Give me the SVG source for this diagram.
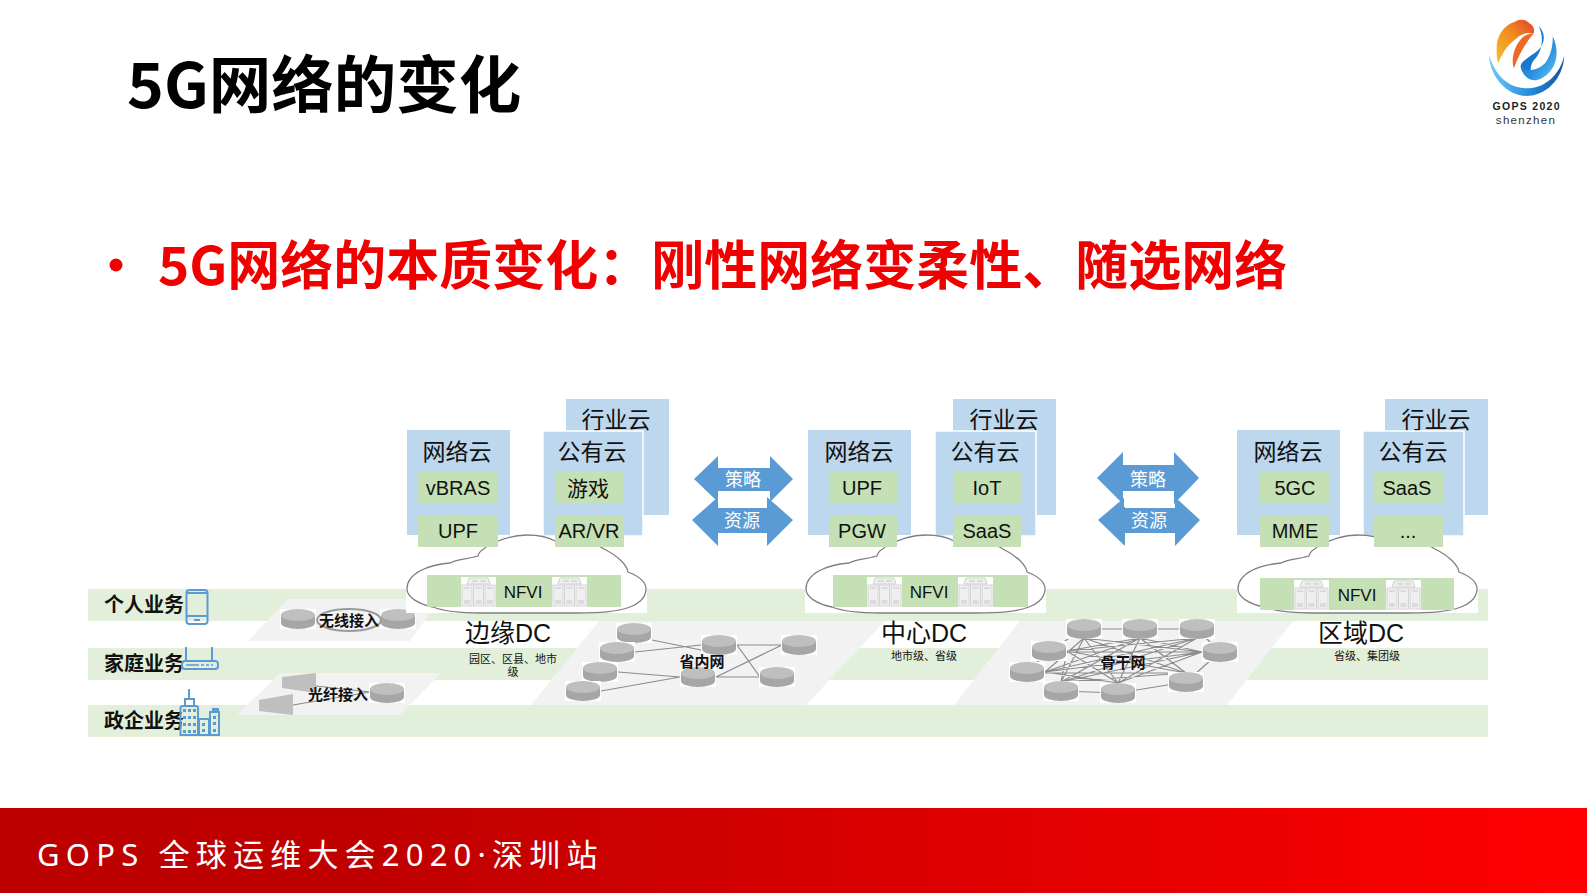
<svg xmlns="http://www.w3.org/2000/svg" xmlns:xlink="http://www.w3.org/1999/xlink" width="1587" height="893" viewBox="0 0 1587 893">
<style>
text{font-family:"Liberation Sans","Noto Sans CJK SC",sans-serif;fill:#111}
.m{text-anchor:middle}
.blue{fill:#BDD7EE}
.pub{fill:#BDD7EE;stroke:#fff;stroke-width:1.5}
.green{fill:#C5E0B4}
.band{fill:#E2EFDA}
.plane{fill:#F2F2F2}
.t22{font-size:23px}
.t21{font-size:20px}
.nf{font-size:17px}
.dc{font-size:25px}
.sub{font-size:11px}
.biz{font-size:20px;font-weight:700}
.net{font-size:15px;font-weight:700}
.arrow{fill:#5B9BD5}
.at{font-size:18px;fill:#fff}
.ln{stroke:#8c8c8c;stroke-width:1.2;fill:none}
.ic{fill:none;stroke:#5B9BD5;stroke-width:2}
.icf{fill:#5B9BD5}
</style>
<defs>
<linearGradient id="foot" x1="0" y1="0" x2="1" y2="0"><stop offset="0" stop-color="#BC0000"/><stop offset=".25" stop-color="#C00000"/><stop offset="1" stop-color="#FF0000"/></linearGradient>
<linearGradient id="org" x1="0" y1="1" x2="1" y2="0"><stop offset="0" stop-color="#F7C02C"/><stop offset=".55" stop-color="#F08A22"/><stop offset="1" stop-color="#E2412A"/></linearGradient>
<linearGradient id="bl" x1="0" y1="0" x2="1" y2="1"><stop offset="0" stop-color="#1463BE"/><stop offset=".6" stop-color="#2A92E0"/><stop offset="1" stop-color="#6CCDF5"/></linearGradient>
<linearGradient id="ring" x1="0" y1="0" x2="1" y2="0"><stop offset="0" stop-color="#6CCBF5"/><stop offset=".6" stop-color="#1F86D8"/><stop offset="1" stop-color="#1450A8"/></linearGradient>
<g id="cyl">
<rect x="-18" y="-10" width="36" height="20" fill="#fff"/>
<path d="M-17-4V4A17 6 0 0 0 17 4V-4Z" fill="#A6A6A6"/>
<ellipse cx="0" cy="-4" rx="17" ry="6" fill="#BFBFBF"/>
</g>
<g id="srv">
<rect width="35" height="30" fill="#fff"/>
<path d="M6 7 8 1H27L29 7Z" fill="#f0f0f0" stroke="#d0d0d0"/>
<path d="M11 4H17M19 4H25" stroke="#c4c4c4"/>
<g fill="#efefef" stroke="#d4d4d4"><rect x="1" y="8" width="10" height="21"/><rect x="12.500" y="8" width="10" height="21"/><rect x="24" y="8" width="10" height="21"/></g>
<path d="M3 11H9M14.500 11H20.500M26 11H32M3 24H9M14.500 24H20.500M26 24H32M3 26H9M14.500 26H20.500M26 26H32" stroke="#c8c8c8"/>
</g>
<g id="cloud">
<rect x="0" y="54" width="241" height="24" fill="#fff"/>
<path d="M1 54C1 38 22 30 44 28C52 24 62 24 72 21C73 15 78 15 80 12C92 5 106 0 121 0C132 0 142 2 149 6C165 3 185 5 198 14C212 21 221 30 222 37C235 42 240 47 240 54C240 64 230 70 224 72C210 77 195 78 170 78H75C55 78 40 77 27 72C12 69 1 62 1 54Z" fill="#fff" stroke="#7f7f7f" stroke-width="1.300"/>
</g>
</defs>

<rect width="1587" height="893" fill="#fff"/>

<g id="title"><text x="127" y="108" style="font-size:62.500px;font-weight:700;fill:#000;font-family:'Noto Sans CJK SC',sans-serif">5G网络的变化</text></g>
<g id="subtitle">
<circle cx="116" cy="265" r="6.500" fill="#F00000"/>
<text x="158" y="285" style="font-size:53px;font-weight:700;fill:#F00000;font-family:'Noto Sans CJK SC',sans-serif">5G网络的本质变化&#xFF1A;刚性网络变柔性、随选网络</text>
</g>

<g id="logo">
<g transform="translate(1470 0) scale(.3333)">
<path d="M57 165C60 235 115 288 170 288C225 288 280 240 283 165C270 225 225 265 170 265C115 265 75 225 57 165Z" fill="url(#ring)"/>
<path d="M80 150C78 110 100 75 135 65C150 55 170 58 178 70C190 75 196 90 190 102C175 96 155 100 140 115C120 130 100 150 85 190C80 175 80 160 80 150Z" fill="url(#org)"/>
<path d="M190 102C170 125 145 165 132 205C122 180 132 140 155 115C165 105 178 100 190 102Z" fill="#EC6A26"/>
<path d="M205 78C228 98 226 130 205 150C185 168 155 180 152 198C152 215 170 235 190 240C178 215 180 195 192 180C215 160 225 110 205 78Z" fill="#1B78D0"/>
<path d="M152 198C170 215 200 215 225 190C240 170 250 140 248 108C268 150 262 195 235 220C215 240 195 245 180 238C165 232 155 215 152 198Z" fill="url(#bl)"/>
</g>
<text x="1526" y="110" class="m" style="font-size:10.500px;font-weight:700;fill:#222" textLength="67" lengthAdjust="spacing">GOPS 2020</text>
<text x="1526" y="124" class="m" style="font-size:11.500px;letter-spacing:1.300px;fill:#333">shenzhen</text>
</g>

<g id="bands">
<rect class="band" x="88" y="589" width="1400" height="32"/>
<rect class="band" x="88" y="648" width="1400" height="32"/>
<rect class="band" x="88" y="705" width="1400" height="32"/>
</g>
<g id="planes">
<polygon class="plane" points="288,599 440,599 410,641 248,641"/>
<polygon class="plane" points="280,673 441,673 400,715 237,715"/>
<polygon class="plane" points="599,621 885,621 806,705 531,705"/>
<polygon class="plane" points="1020,621 1293,621 1227,705 954,705"/>
</g>

<g id="connectors">
<path class="ln" d="M316 686 370 692M293 705 370 692"/>
<path class="ln" d="M652 640 701 650M635 652 701 645M618 672 680 677M601 691 680 677M737 645H781M737 645 760 677M716 677 782 645M716 677H759"/>
<path class="ln" d="M1084 629H1197M1197 629 1220 652M1220 652 1186 682M1186 682 1118 693M1118 693 1061 691M1061 691 1027 672M1027 672 1049 651M1049 651 1084 629"/>
<path class="ln" d="M1084 638 1202 652M1084 638 1186 673M1084 638 1118 683M1084 638 1061 682M1084 638 1045 672M1140 638 1202 652M1140 638 1186 673M1140 638 1118 683M1140 638 1061 682M1140 638 1045 672M1140 638 1067 651M1197 638 1118 683M1197 638 1061 682M1197 638 1045 672M1197 638 1067 651M1202 652 1118 683M1202 652 1061 682M1202 652 1045 672M1202 652H1067M1186 673H1045M1186 673 1067 651M1186 673 1061 682M1118 683 1045 672M1118 683 1067 651M1061 682 1067 651"/>
</g>

<g id="biz-personal"><text x="104" y="612" class="biz">个人业务</text>
<rect class="ic" x="186.500" y="590" width="21" height="34" rx="3"/><path class="ic" d="M187 593H207M187 616H207"/><path class="icf" d="M194 619h6v2h-6z"/></g>
<g id="biz-home"><text x="104" y="671" class="biz">家庭业务</text>
<rect class="ic" x="182" y="661" width="36" height="8" rx="3"/><path class="ic" d="M186 660V647M212 660V647"/><path d="M186 665H199M201 665H204M206 665H209M211 665H213" stroke="#5B9BD5" stroke-width="1.500"/></g>
<g id="biz-gov"><text x="104" y="728" class="biz">政企业务</text>
<path class="ic" d="M189 689V699M185 706V699H194V706"/><path class="ic" d="M180.500 735V708Q180.500 706 183 706H196Q198 706 198 708V735Z"/><rect class="ic" x="199" y="719" width="10" height="16"/><rect class="ic" x="210" y="712" width="9" height="23"/>
<path class="icf" d="M183 709h3v3h-3zM188 709h3v3h-3zM193 709h3v3h-3zM183 716h3v3h-3zM188 716h3v3h-3zM193 716h3v3h-3zM183 723h3v3h-3zM188 723h3v3h-3zM193 723h3v3h-3zM183 730h3v3h-3zM188 730h3v3h-3zM193 730h3v3h-3zM202 723h3v3h-3zM202 729h3v3h-3zM213 716h3v3h-3zM213 722h3v3h-3zM213 729h3v3h-3zM212 708h7v4h-7z"/></g>

<g id="wireless">
<use href="#cyl" x="298" y="619"/><use href="#cyl" x="398" y="619"/>
<ellipse cx="349" cy="620" rx="32" ry="11" fill="#f4f4f4" stroke="#9a9a9a" stroke-width="2"/>
<text x="349" y="626" class="m net">无线接入</text>
</g>
<g id="fiber">
<polygon fill="#BFBFBF" points="282,677 316,673 316,693 282,688"/>
<polygon fill="#BFBFBF" points="259,700 293,694 293,715 259,711"/>
<use href="#cyl" x="387" y="693"/>
<text x="338" y="700" class="m net">光纤接入</text>
</g>

<g id="province">
<use href="#cyl" x="634" y="633"/><use href="#cyl" x="617" y="652"/><use href="#cyl" x="600" y="672"/><use href="#cyl" x="583" y="691"/><use href="#cyl" x="719" y="645"/><use href="#cyl" x="698" y="677"/><use href="#cyl" x="799" y="645"/><use href="#cyl" x="777" y="677"/>
<text x="702" y="667" class="m net">省内网</text>
</g>
<g id="backbone">
<use href="#cyl" x="1084" y="629"/><use href="#cyl" x="1140" y="629"/><use href="#cyl" x="1197" y="629"/><use href="#cyl" x="1220" y="652"/><use href="#cyl" x="1186" y="682"/><use href="#cyl" x="1118" y="693"/><use href="#cyl" x="1061" y="691"/><use href="#cyl" x="1027" y="672"/><use href="#cyl" x="1049" y="651"/>
<text x="1123" y="668" class="m net">骨干网</text>
</g>

<g id="edge-dc">
<rect class="blue" x="566" y="399" width="103" height="116"/><text x="616" y="428" class="m t22">行业云</text>
<rect class="blue" x="407" y="430" width="103" height="105"/><text x="457" y="460" class="m t22">网络云</text>
<rect class="pub" x="543" y="431" width="100" height="105"/><text x="592" y="460" class="m t22">公有云</text>
<use href="#cloud" x="406" y="535"/>
<rect class="green" x="418" y="472" width="80" height="32"/><text x="458" y="495" class="m t21">vBRAS</text>
<rect class="green" x="418" y="515" width="80" height="32"/><text x="458" y="538" class="m t21">UPF</text>
<rect class="green" x="555" y="472" width="69" height="32"/><text x="588" y="496" class="m" style="font-size:21px">游戏</text>
<rect class="green" x="555" y="515" width="69" height="32"/><text x="589" y="538" class="m t21">AR/VR</text>
<rect class="green" x="427" y="575" width="194" height="32"/><use href="#srv" x="461" y="577"/><use href="#srv" x="552" y="577"/><text x="523" y="598" class="m nf">NFVI</text>
<text x="508" y="642" class="m dc">边缘DC</text>
<text x="513" y="663" class="m sub">园区、区县、地市</text><text x="513" y="676" class="m sub">级</text>
</g>

<g id="center-dc">
<rect class="blue" x="953" y="399" width="103" height="116"/><text x="1004" y="428" class="m t22">行业云</text>
<rect class="blue" x="808" y="430" width="103" height="105"/><text x="859" y="460" class="m t22">网络云</text>
<rect class="pub" x="935" y="431" width="101" height="105"/><text x="985" y="460" class="m t22">公有云</text>
<use href="#cloud" x="805" y="535"/>
<rect class="green" x="829" y="472" width="68" height="32"/><text x="862" y="495" class="m t21">UPF</text>
<rect class="green" x="829" y="515" width="68" height="32"/><text x="862" y="538" class="m t21">PGW</text>
<rect class="green" x="953" y="472" width="68" height="32"/><text x="987" y="495" class="m t21">IoT</text>
<rect class="green" x="953" y="515" width="68" height="32"/><text x="987" y="538" class="m t21">SaaS</text>
<rect class="green" x="833" y="575" width="195" height="32"/><use href="#srv" x="867" y="577"/><use href="#srv" x="958" y="577"/><text x="929" y="598" class="m nf">NFVI</text>
<text x="924" y="642" class="m dc">中心DC</text>
<text x="924" y="660" class="m sub">地市级、省级</text>
</g>

<g id="region-dc">
<rect class="blue" x="1385" y="399" width="103" height="116"/><text x="1436" y="428" class="m t22">行业云</text>
<rect class="blue" x="1237" y="430" width="103" height="105"/><text x="1288" y="460" class="m t22">网络云</text>
<rect class="pub" x="1363" y="431" width="101" height="105"/><text x="1413" y="460" class="m t22">公有云</text>
<use href="#cloud" x="1237" y="535"/>
<rect class="green" x="1260" y="472" width="69" height="32"/><text x="1295" y="495" class="m t21">5GC</text>
<rect class="green" x="1260" y="515" width="69" height="32"/><text x="1295" y="538" class="m t21">MME</text>
<rect class="green" x="1374" y="472" width="69" height="32"/><text x="1407" y="495" class="m t21">SaaS</text>
<rect class="green" x="1374" y="515" width="69" height="32"/><text x="1408" y="538" class="m t21">...</text>
<rect class="green" x="1260" y="578" width="194" height="32"/><use href="#srv" x="1294" y="580"/><use href="#srv" x="1386" y="580"/><text x="1357" y="601" class="m nf">NFVI</text>
<text x="1361" y="642" class="m dc">区域DC</text>
<text x="1367" y="660" class="m sub">省级、集团级</text>
</g>

<g id="exchange-1">
<path class="arrow" d="M694 479 718 456V468H770V456L793 479 770 502V491H718V502Z"/>
<path class="arrow" d="M692 520 718 497V508H767V497L793 520 767 546V533H718V546Z"/>
<rect x="718" y="492" width="49" height="15" fill="#fff"/>
<text x="743" y="486" class="m at">策略</text><text x="742" y="527" class="m at">资源</text>
</g>
<g id="exchange-2">
<path class="arrow" d="M1097 478 1123 452V465H1174V452L1199 478 1174 504V491H1123V504Z"/>
<path class="arrow" d="M1098 520 1125 497V508H1175V497L1200 520 1175 546V533H1125V546Z"/>
<rect x="1124" y="492" width="50" height="15" fill="#fff"/>
<text x="1148" y="486" class="m at">策略</text><text x="1149" y="527" class="m at">资源</text>
</g>

<g id="footer">
<rect x="0" y="808" width="1587" height="85" fill="url(#foot)"/>
<text x="37" y="866" style="font-size:31px;letter-spacing:6.200px;fill:#fff;font-family:'Noto Sans','Noto Sans CJK SC',sans-serif">GOPS 全球运维大会2020·深圳站</text>
</g>
</svg>
